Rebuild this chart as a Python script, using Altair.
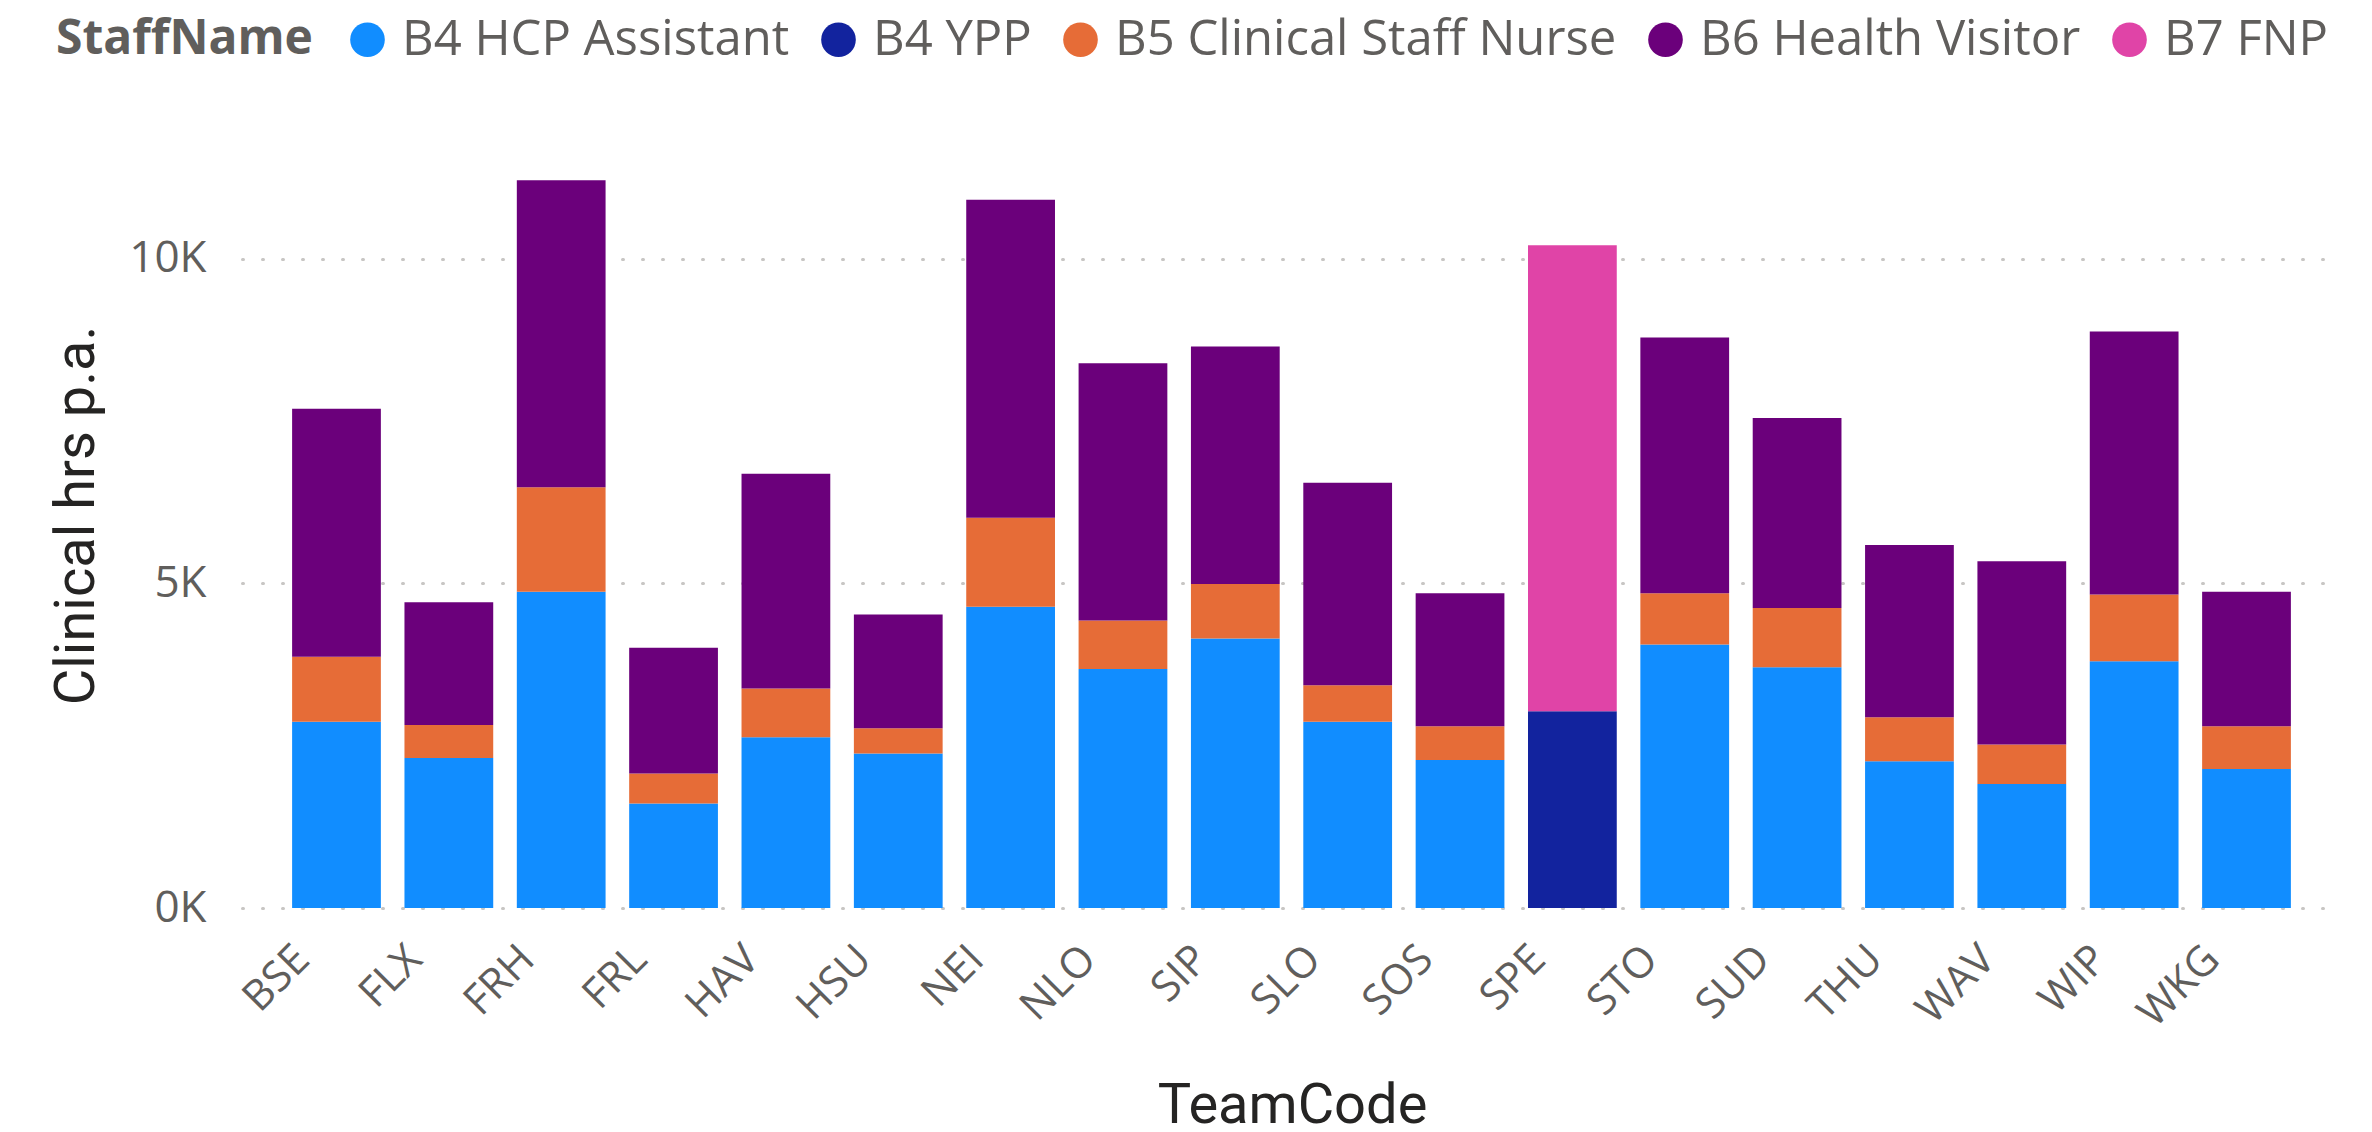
import altair as alt
import pandas as pd

teams = ["BSE", "FLX", "FRH", "FRL", "HAV", "HSU", "NEI", "NLO", "SIP",
         "SLO", "SOS", "SPE", "STO", "SUD", "THU", "WAV", "WIP", "WKG"]
staff = ["B4 HCP Assistant", "B4 YPP", "B5 Clinical Staff Nurse",
         "B6 Health Visitor", "B7 FNP"]
colors = ["#118DFF", "#12239E", "#E66C37", "#6B007B", "#E044A7"]

# hours per staff group (stack segments)
hcp_assistant = [2870, 2310, 4870, 1610, 2630, 2380, 4640, 3680, 4150,
                 2870, 2280, 0, 4060, 3710, 2260, 1910, 3800, 2140]
ypp = [0, 0, 0, 0, 0, 0, 0, 0, 0, 0, 0, 3030, 0, 0, 0, 0, 0, 0]
staff_nurse = [1000, 510, 1610, 460, 750, 390, 1370, 750, 840,
               560, 520, 0, 790, 910, 680, 610, 1030, 660]
health_visitor = [3820, 1890, 4730, 1940, 3310, 1750, 4900, 3960, 3660,
                  3120, 2050, 0, 3940, 2930, 2650, 2820, 4050, 2070]
fnp = [0, 0, 0, 0, 0, 0, 0, 0, 0, 0, 0, 7180, 0, 0, 0, 0, 0, 0]

series = [hcp_assistant, ypp, staff_nurse, health_visitor, fnp]
rows = []
for si, (name, vals) in enumerate(zip(staff, series)):
    for t, v in zip(teams, vals):
        if v > 0:
            rows.append({"TeamCode": t, "StaffName": name, "hrs": v, "ord": si})
df = pd.DataFrame(rows)

label_font = "Open Sans"
title_font = "Roboto"

chart = alt.Chart(df).mark_bar().encode(
    x=alt.X("TeamCode:N", sort=teams,
            scale=alt.Scale(paddingInner=0.21, paddingOuter=0.446),
            axis=alt.Axis(labelAngle=315, labelFontSize=42, labelFont=label_font,
                          labelColor="#605E5C", ticks=False, domain=False,
                          labelPadding=30, labelOffset=-48,
                          title="TeamCode", titleFont=title_font,
                          titleFontSize=56, titleFontWeight="normal",
                          titleColor="#252423", titleX=1050, titleY=214,
                          titleBaseline="alphabetic", titleAlign="center")),
    y=alt.Y("hrs:Q", stack="zero",
            scale=alt.Scale(domain=[0, 12000], nice=False),
            axis=alt.Axis(values=[0, 5000, 10000], labelExpr="datum.value/1000 + 'K'",
                          labelFontSize=44, labelFont=label_font, labelColor="#605E5C",
                          ticks=False, domain=False, labelPadding=36,
                          gridColor="#C8C6C4", gridDash=[1, 19], gridWidth=3,
                          gridCap="round",
                          title="Clinical hrs p.a.", titleFont=title_font,
                          titleFontSize=56, titleFontWeight="normal",
                          titleColor="#252423", titleAngle=270, titleX=-166,
                          titleY=386, titleAlign="center", titleBaseline="middle")),
    color=alt.Color("StaffName:N", scale=alt.Scale(domain=staff, range=colors),
                    legend=alt.Legend(orient="none", legendX=-186, legendY=-114,
                                      direction="horizontal", titleOrient="left",
                                      title="StaffName", titleFont=label_font,
                                      titleFontSize=48, titleFontWeight="bold",
                                      titleColor="#605E5C", titlePadding=30,
                                      titleLimit=1000,
                                      labelFont=label_font, labelFontSize=49,
                                      labelColor="#605E5C", symbolType="circle",
                                      symbolSize=1200, symbolStrokeWidth=0,
                                      symbolOpacity=1, labelOffset=10,
                                      columnPadding=24, labelLimit=1000)),
    order=alt.Order("ord:Q", sort="ascending"),
).properties(
    width=2099, height=779,
    autosize=alt.AutoSizeParams(type="none"),
    padding={"left": 234, "top": 121, "right": 23, "bottom": 216},
).configure_view(stroke=None)

chart.save("out.html", embed_options={"renderer": "svg", "actions": False})
